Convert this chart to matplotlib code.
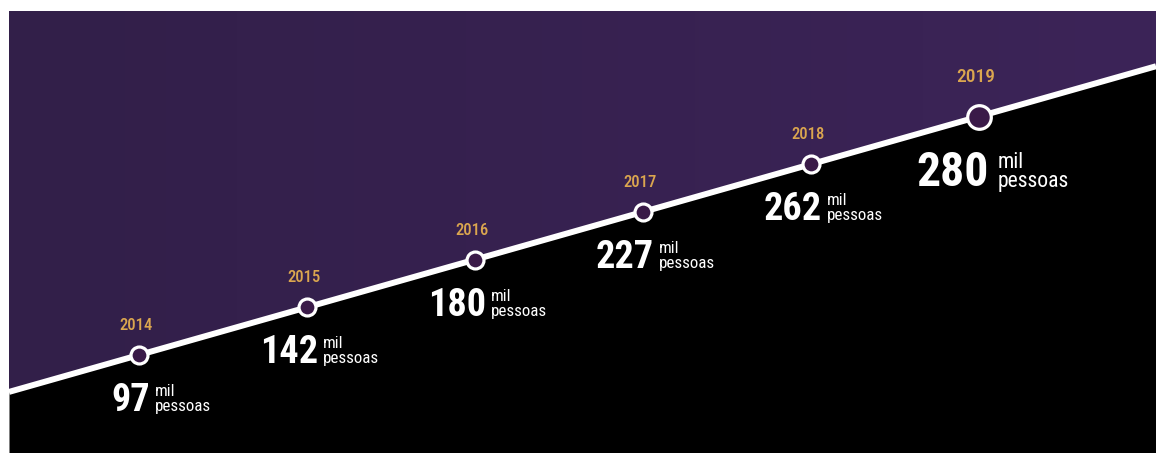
import matplotlib
matplotlib.use("Agg")
import matplotlib.pyplot as plt
from matplotlib import font_manager
import numpy as np

# Data
years = [2014, 2015, 2016, 2017, 2018, 2019]
people_thousands = [97, 142, 180, 227, 262, 280]
unit_line1 = "mil"
unit_line2 = "pessoas"


def first_available(candidates, fallback="DejaVu Sans"):
    names = {f.name for f in font_manager.fontManager.ttflist}
    for c in candidates:
        if c in names:
            return c
    return fallback


NUM_FONT = first_available(["Roboto Condensed", "Liberation Sans Narrow",
                            "Open Sans Condensed", "DejaVu Sans"])
UNIT_FONT = first_available(["Roboto Condensed", "Lato", "Open Sans"])

PURPLE_L = np.array([0x32, 0x1f, 0x49]) / 255
PURPLE_R = np.array([0x3c, 0x24, 0x58]) / 255
GOLD = "#dba64f"
DOT = "#3a1a48"

W, H = 1156, 453
fig = plt.figure(figsize=(W / 100, H / 100), dpi=100, facecolor="white")
ax = fig.add_axes([9 / W, 0, (W - 9) / W, (H - 11) / H])
ax.set_facecolor("black")

# diagonal: one year per 168 px horizontally, 47.7 px vertically
px_x, px_y = 168.0, 47.7
x0 = years[0] - (139 - 9) / px_x
x1 = x0 + (W - 9) / px_x
y0 = years[0] - 98 / px_y
y1 = y0 + (H - 11) / px_y
ax.set_xlim(x0, x1)
ax.set_ylim(y0, y1)
ax.axis("off")

xs = np.linspace(x0, x1, 200)
upper = ax.fill_between(xs, xs, y1, color="none", lw=0)
ax.fill_between(xs, y0, xs, color="black", lw=0)

# purple band above the diagonal with a faint horizontal gradient
grad = np.linspace(0, 1, 256)[None, :, None]
img = PURPLE_L[None, None, :] * (1 - grad) + PURPLE_R[None, None, :] * grad
im = ax.imshow(img, extent=[x0, x1, y0, y1], aspect="auto", zorder=1)
im.set_clip_path(upper.get_paths()[0], transform=ax.transData)

ax.plot(xs, xs, color="white", lw=4.3, solid_capstyle="butt", zorder=3)

PT = 0.72  # points per pixel at 100 dpi
for i, (yr, val) in enumerate(zip(years, people_thousands)):
    last = i == len(years) - 1
    s = 1.25 if last else 1.0
    su = 1.28 if last else 1.0
    ms = 17.0 if last else 12.2
    ax.plot([yr], [yr], "o", ms=ms, mfc=DOT, mec="white", mew=2.3, zorder=4)

    # year above the dot
    ax.annotate(str(yr), (yr, yr), xytext=(-3 * PT, (34 if last else 25) * PT),
                textcoords="offset points", ha="center", va="baseline",
                color=GOLD, fontsize=14 if last else 12, family=NUM_FONT,
                fontstretch="condensed", fontweight="medium", zorder=5)
    # value below the dot
    ax.annotate(str(val), (yr, yr), xytext=((10 if last else 11) * PT, -56 * s * PT),
                textcoords="offset points", ha="right", va="baseline",
                color="white", fontsize=27.5 * s, family=NUM_FONT,
                fontstretch="condensed", fontweight="bold", zorder=5)
    ux = (19 if last else 16) * PT
    ax.annotate(unit_line1, (yr, yr), xytext=(ux, -41 * s * PT),
                textcoords="offset points", ha="left", va="baseline",
                color="white", fontsize=12.2 * su, family=UNIT_FONT, zorder=5)
    ax.annotate(unit_line2, (yr, yr), xytext=(ux, -56 * s * PT),
                textcoords="offset points", ha="left", va="baseline",
                color="white", fontsize=12.2 * su, family=UNIT_FONT, zorder=5)

fig.savefig("out.png", dpi=100, facecolor="white")
